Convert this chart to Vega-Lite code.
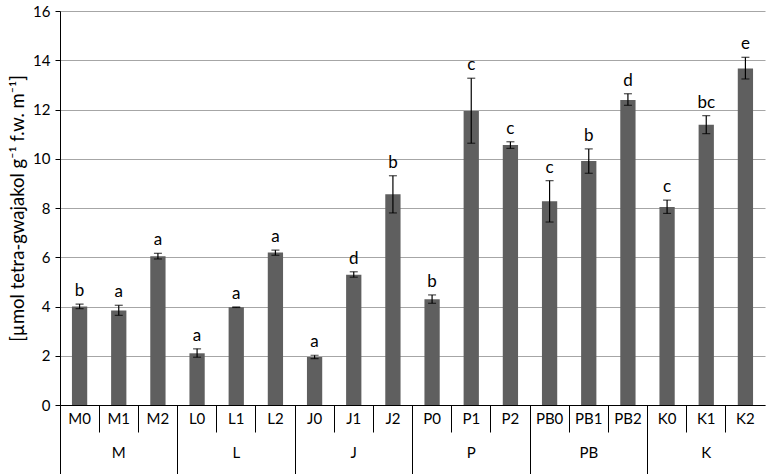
{
  "$schema": "https://vega.github.io/schema/vega-lite/v6.json",
  "autosize": {"type": "none"},
  "width": 705,
  "height": 394,
  "padding": {"left": 60, "top": 11, "right": 2, "bottom": 69},
  "background": "white",
  "config": {
    "view": {"stroke": null},
    "font": "Lato",
    "axis": {"labelFont": "Lato", "titleFont": "Lato"}
  },
  "data": {
    "values": [
      {"name": "M0", "group": "M", "value": 4.0, "lo": 3.91, "hi": 4.1, "letter": "b"},
      {"name": "M1", "group": "M", "value": 3.84, "lo": 3.64, "hi": 4.05, "letter": "a"},
      {"name": "M2", "group": "M", "value": 6.04, "lo": 5.93, "hi": 6.16, "letter": "a"},
      {"name": "L0", "group": "L", "value": 2.1, "lo": 1.94, "hi": 2.28, "letter": "a"},
      {"name": "L1", "group": "L", "value": 3.97, "lo": 3.96, "hi": 3.98, "letter": "a"},
      {"name": "L2", "group": "L", "value": 6.19, "lo": 6.08, "hi": 6.29, "letter": "a"},
      {"name": "J0", "group": "J", "value": 1.95, "lo": 1.88, "hi": 2.02, "letter": "a"},
      {"name": "J1", "group": "J", "value": 5.29, "lo": 5.19, "hi": 5.41, "letter": "d"},
      {"name": "J2", "group": "J", "value": 8.56, "lo": 7.8, "hi": 9.31, "letter": "b"},
      {"name": "P0", "group": "P", "value": 4.29, "lo": 4.13, "hi": 4.47, "letter": "b"},
      {"name": "P1", "group": "P", "value": 11.94, "lo": 10.63, "hi": 13.27, "letter": "c"},
      {"name": "P2", "group": "P", "value": 10.56, "lo": 10.42, "hi": 10.69, "letter": "c"},
      {"name": "PB0", "group": "PB", "value": 8.27, "lo": 7.43, "hi": 9.11, "letter": "c"},
      {"name": "PB1", "group": "PB", "value": 9.91, "lo": 9.41, "hi": 10.4, "letter": "b"},
      {"name": "PB2", "group": "PB", "value": 12.39, "lo": 12.17, "hi": 12.64, "letter": "d"},
      {"name": "K0", "group": "K", "value": 8.04, "lo": 7.78, "hi": 8.32, "letter": "c"},
      {"name": "K1", "group": "K", "value": 11.38, "lo": 11.02, "hi": 11.75, "letter": "bc"},
      {"name": "K2", "group": "K", "value": 13.66, "lo": 13.24, "hi": 14.12, "letter": "e"}
    ]
  },
  "resolve": {"scale": {"x": "independent"}, "axis": {"x": "independent"}},
  "layer": [
    {
      "encoding": {
        "x": {
          "field": "name", "type": "nominal", "sort": null,
          "scale": {"paddingInner": 0, "paddingOuter": 0},
          "axis": {
            "title": null, "orient": "bottom", "labelAngle": 0,
            "bandPosition": 0, "tickSize": 27, "tickColor": "#000000", "tickWidth": 1,
            "domainColor": "#000000", "domainWidth": 1,
            "labelPadding": -21, "labelFontSize": 15, "labelColor": "#000000",
            "grid": false
          }
        },
        "y": {
          "field": "value", "type": "quantitative",
          "scale": {"domain": [0, 16], "nice": false},
          "axis": {
            "values": [0, 2, 4, 6, 8, 10, 12, 14, 16],
            "title": "[µmol tetra-gwajakol g⁻¹ f.w. m⁻¹]",
            "titleFontSize": 18.5, "titleFontWeight": "normal", "titleColor": "#000000",
            "titlePadding": 5,
            "labelFontSize": 15, "labelColor": "#000000", "labelPadding": 5,
            "tickSize": 5, "tickColor": "#000000", "domainColor": "#000000",
            "grid": true, "gridColor": "#a6a6a6", "gridWidth": 1.2
          }
        }
      },
      "layer": [
        {"mark": {"type": "bar", "color": "#5f5f5f", "width": {"band": 0.39}}},
        {"mark": {"type": "rule", "color": "#000000", "strokeWidth": 1.2},
         "encoding": {"y": {"field": "lo", "type": "quantitative"}, "y2": {"field": "hi"}}},
        {"mark": {"type": "tick", "color": "#000000", "size": 8, "thickness": 1.2},
         "encoding": {"y": {"field": "lo", "type": "quantitative"}}},
        {"mark": {"type": "tick", "color": "#000000", "size": 8, "thickness": 1.2},
         "encoding": {"y": {"field": "hi", "type": "quantitative"}}},
        {"mark": {"type": "text", "fontSize": 17, "color": "#000000", "baseline": "alphabetic", "dy": -8},
         "encoding": {"y": {"field": "hi", "type": "quantitative"}, "text": {"field": "letter"}}}
      ]
    },
    {
      "mark": {"type": "bar", "opacity": 0},
      "encoding": {
        "x": {
          "field": "group", "type": "nominal", "sort": ["M", "L", "J", "P", "PB", "K"],
          "scale": {"paddingInner": 0, "paddingOuter": 0},
          "axis": {
            "title": null, "orient": "bottom", "labelAngle": 0, "domain": false,
            "bandPosition": 0, "tickSize": 69, "tickColor": "#000000", "tickWidth": 1,
            "labelPadding": -29, "labelFontSize": 15, "labelColor": "#000000",
            "grid": false
          }
        },
        "y": {"field": "value", "type": "quantitative"}
      }
    }
  ]
}
